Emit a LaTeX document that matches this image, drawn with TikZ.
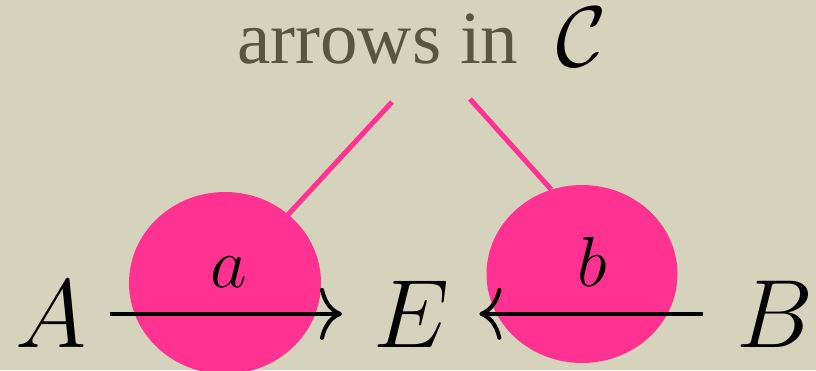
\RequirePackage{fix-cm}
\documentclass[tikz,border=0pt]{standalone}
\usepackage{fontspec}
\newfontfamily\titlefont{Liberation Serif}
\usetikzlibrary{shapes.geometric,arrows.meta}
\definecolor{bgcol}{RGB}{214,211,188}
\definecolor{titlecol}{RGB}{89,85,63}
\definecolor{pinkcol}{RGB}{255,50,145}
\tikzset{
  mathlbl/.style={inner sep=0pt, anchor=base west, font=\fontsize{97}{100}\selectfont},
  edgelbl/.style={inner sep=0pt, anchor=base, font=\fontsize{71}{75}\selectfont},
  blob/.style={ellipse, fill=pinkcol, inner sep=0pt},
  pinkline/.style={draw=pinkcol, line width=5pt},
  arr/.style={line width=4pt, -{Computer Modern Rightarrow[length=22pt,width=52pt,line width=4pt]}},
}
\begin{document}
\begin{tikzpicture}[x=1pt,y=-1pt]
\fill[bgcol] (0,0) rectangle (816,370);
\useasboundingbox (0,0) rectangle (816,370);
% title
\node[inner sep=0pt, anchor=base west, text=titlecol, font=\titlefont\fontsize{75}{78}\selectfont] (title) at (237,63) {arrows in};
\node[inner sep=0pt, anchor=base west, font=\fontsize{86}{90}\selectfont] (calC) at (556,66) {$\mathcal{C}$};
\coordinate (ta) at (392,102);
\coordinate (tb) at (470,99);
% blob positions (nodes defined first, drawn later)
\path (225,283) node[ellipse, inner sep=0pt, minimum width=192pt, minimum height=182pt] (ca) {};
\path (582,274) node[ellipse, inner sep=0pt, minimum width=191pt, minimum height=178pt] (cb) {};
% pink connectors, behind the blobs
\draw[pinkline] (ta) -- (ca.center);
\draw[pinkline] (tb) -- (cb.110);
% blobs
\node[blob, minimum width=192pt, minimum height=182pt] (fa) at (ca.center) {};
\node[blob, minimum width=191pt, minimum height=178pt] (fb) at (cb.center) {};
% objects
\node[mathlbl] (A) at (15,347) {$A$};
\node[mathlbl] (E) at (373,347) {$E$};
\node[mathlbl] (B) at (736,347) {$B$};
% arrows
\draw[arr, shorten <=23pt, shorten >=31pt] (A.east) -- (E.west);
\draw[arr, shorten <=33pt, shorten >=30pt] (B.west) -- (E.east);
% labels
\node[edgelbl] (la) at (229,287) {$a$};
\node[edgelbl] (lb) at (592,286) {$b$};
\end{tikzpicture}
\end{document}
